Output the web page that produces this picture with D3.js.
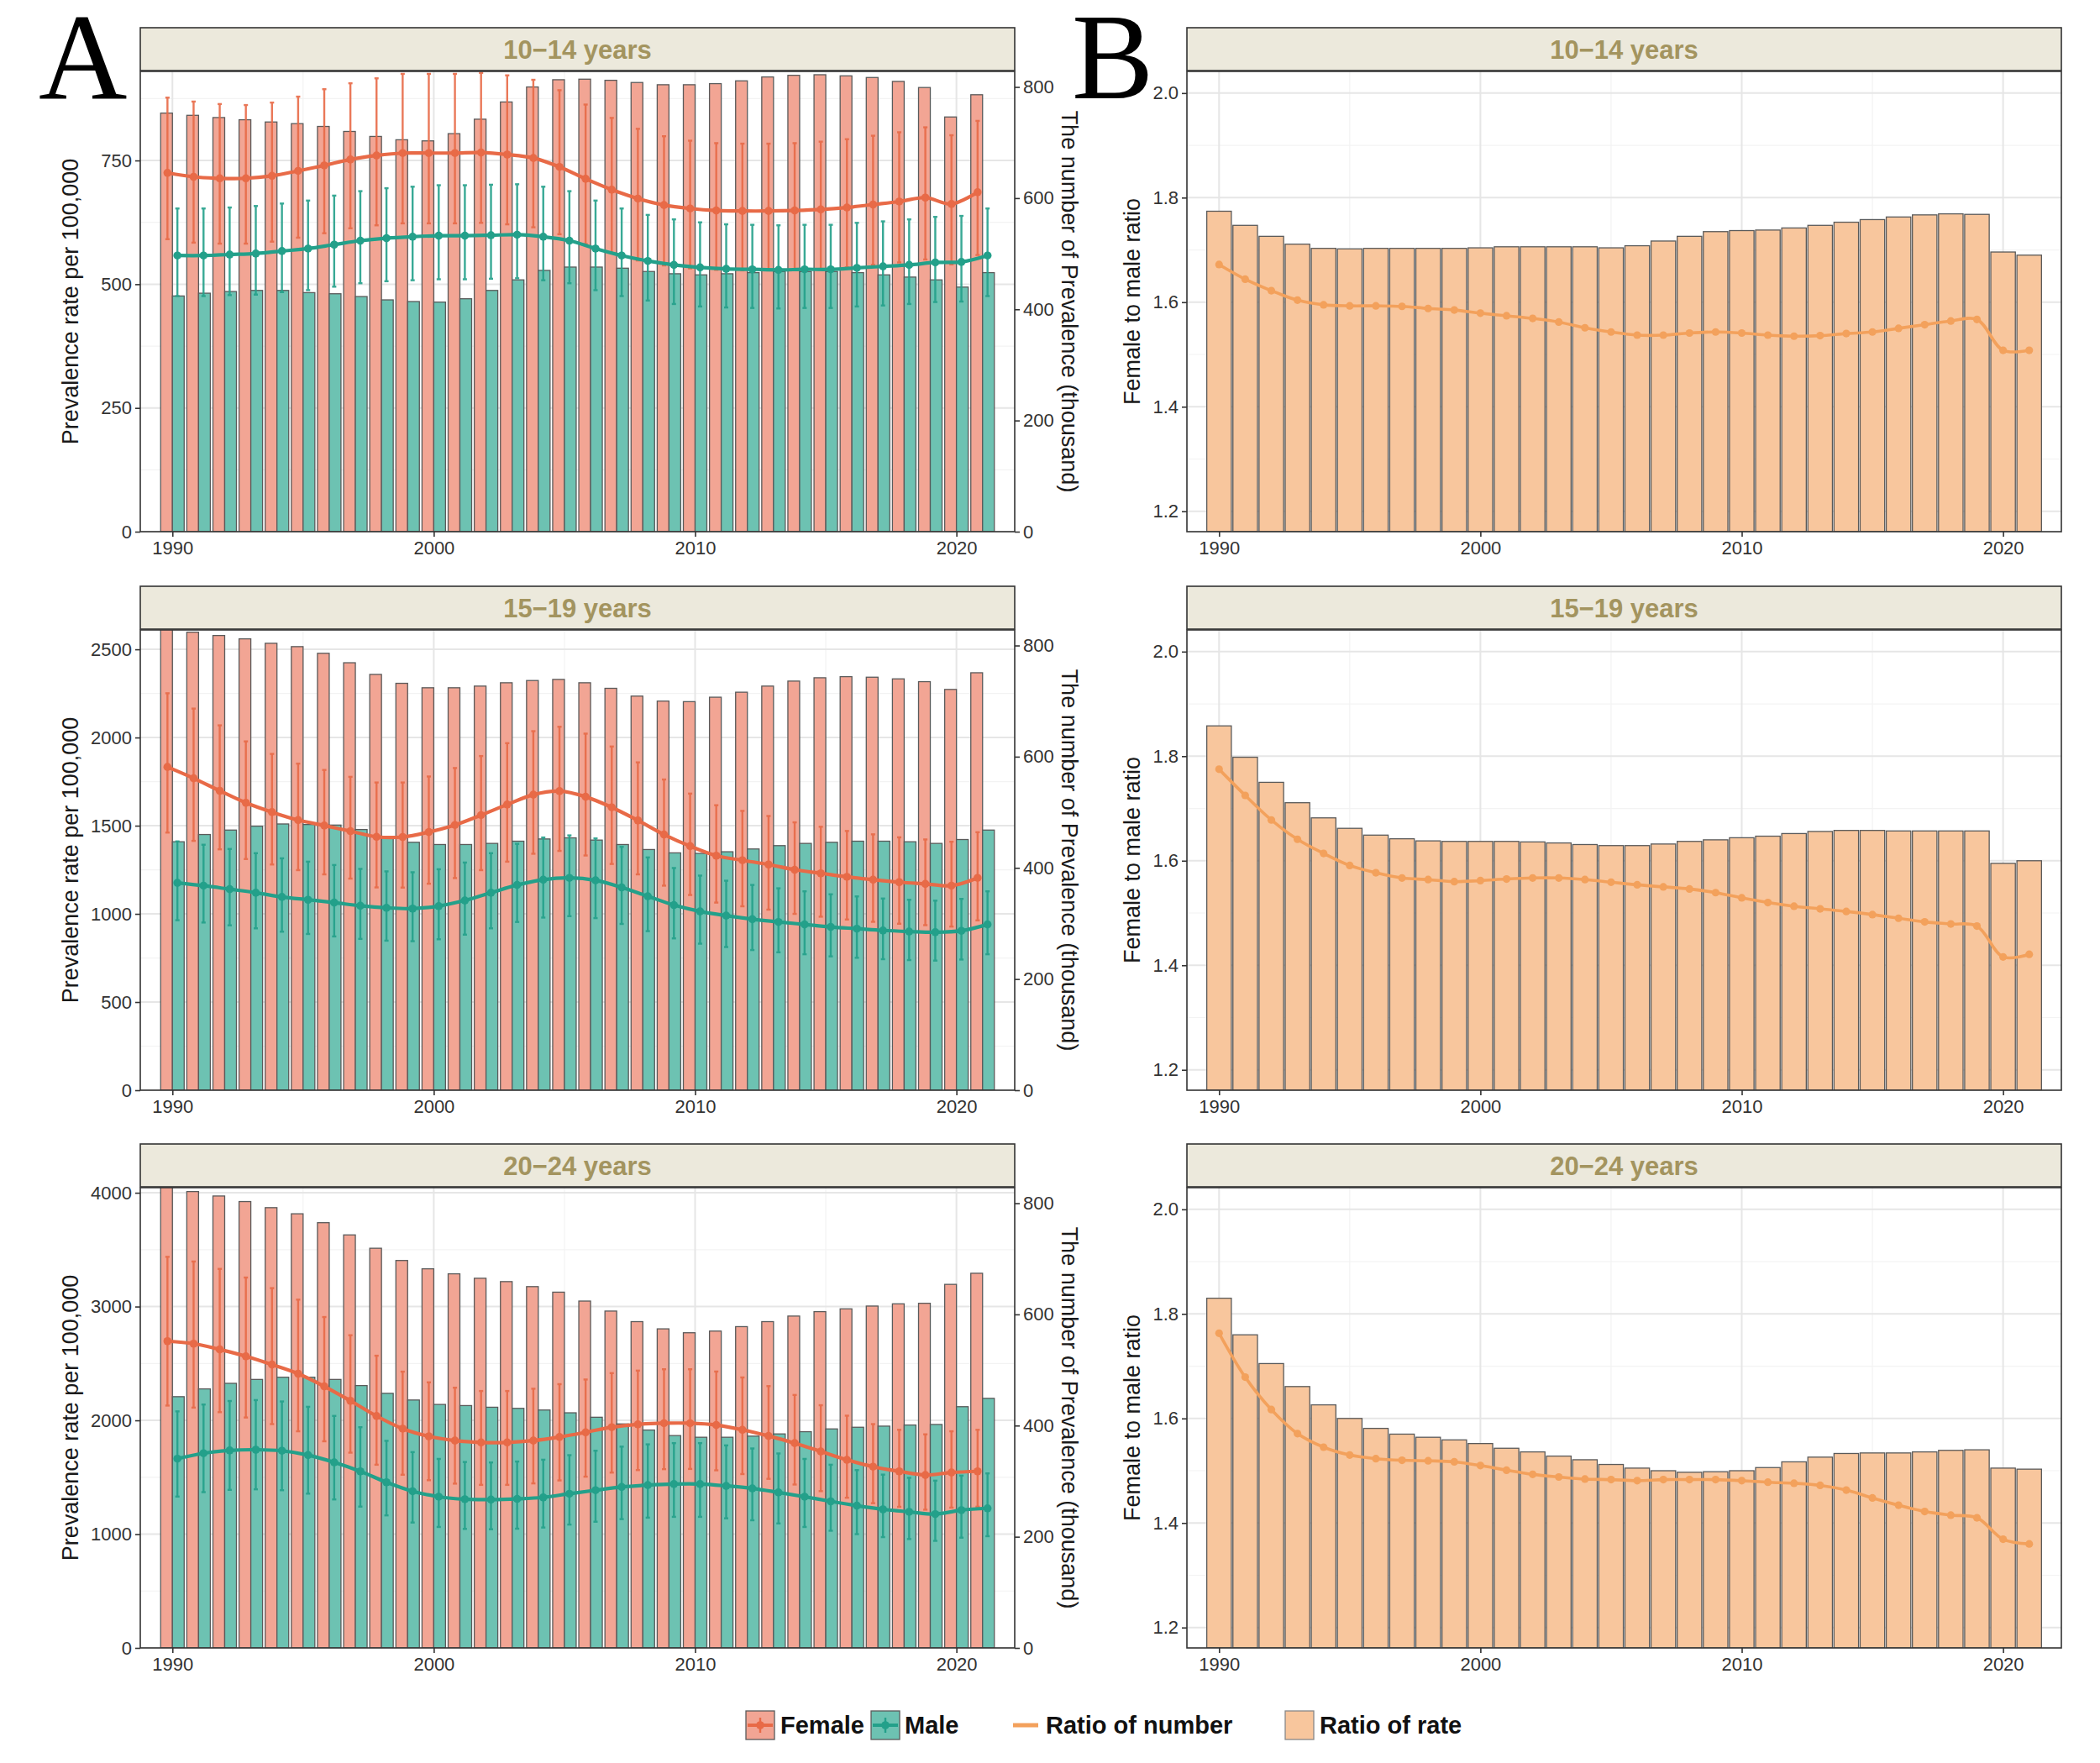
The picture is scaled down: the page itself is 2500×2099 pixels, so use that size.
<!DOCTYPE html>
<html>
<head>
<meta charset="utf-8">
<script src="https://cdn.jsdelivr.net/npm/d3@7"></script>
<style>
  body { margin: 0; background: #fff; }
  text { font-family: "Liberation Sans", Arial, sans-serif; }
  text.letter { font-family: "Liberation Serif", "Times New Roman", serif; }
</style>
</head>
<body>
<div id="chart"></div>
<script>
// ---- data ----
var years = [1990,1991,1992,1993,1994,1995,1996,1997,1998,1999,2000,2001,2002,2003,2004,2005,
             2006,2007,2008,2009,2010,2011,2012,2013,2014,2015,2016,2017,2018,2019,2020,2021];
var ageGroups = ["10\u221214 years", "15\u221219 years", "20\u221224 years"];

// 10-14 years
var female10Bar  = [753,749,745,741,737,734,729,720,711,705,703,716,742,773,800,813,814,812,808,804,804,806,811,818,821,822,820,817,810,799,746,786];
var male10Bar    = [424,429,432,434,434,430,428,423,417,414,413,419,434,453,470,476,476,474,468,464,462,464,466,468,468,468,466,462,458,453,440,466];
var female10Rate = [725,717,714,714,719,729,740,752,760,765,765,765,766,762,755,737,713,691,673,660,653,649,648,648,649,651,655,661,667,675,662,686];
var female10High = [877,869,864,862,867,879,894,906,916,925,925,925,927,922,913,892,863,836,814,799,790,785,784,784,785,788,793,800,807,817,801,830];
var female10Low  = [591,584,582,582,586,594,603,613,619,623,623,623,624,621,615,601,581,563,548,538,532,529,528,528,529,531,534,539,544,550,540,559];
var male10Rate   = [558,558,560,562,567,572,580,588,593,596,598,598,599,600,596,588,572,558,547,539,534,531,530,529,530,530,533,536,539,544,545,558];
var male10High   = [653,653,655,658,663,669,679,688,694,697,700,700,701,702,697,688,669,653,640,631,625,621,620,619,620,620,624,627,631,636,638,653];
var male10Low    = [476,476,478,479,484,488,495,502,506,508,510,510,511,512,508,502,488,476,467,460,455,453,452,451,452,452,455,457,460,464,465,476];
var ratioRate10   = [1.774,1.747,1.726,1.711,1.703,1.702,1.703,1.703,1.703,1.703,1.704,1.706,1.706,1.706,1.706,1.704,1.708,1.717,1.726,1.735,1.737,1.738,1.742,1.747,1.753,1.758,1.763,1.767,1.769,1.768,1.696,1.690];
var ratioNumber10 = [1.672,1.644,1.622,1.604,1.595,1.593,1.593,1.592,1.588,1.585,1.579,1.574,1.569,1.562,1.551,1.543,1.537,1.537,1.541,1.543,1.541,1.537,1.535,1.536,1.540,1.543,1.550,1.557,1.564,1.567,1.508,1.508];

// 15-19 years
var female15Bar  = [830,824,818,812,804,798,786,769,748,732,724,724,727,733,737,739,733,723,709,700,699,707,716,727,736,742,744,743,740,735,721,751];
var male15Bar    = [447,460,468,475,479,478,477,469,454,446,442,442,444,448,452,454,450,442,433,427,426,429,434,440,444,446,448,448,447,444,451,468];
var female15Rate = [1833,1769,1698,1630,1577,1532,1501,1469,1437,1436,1464,1504,1560,1620,1676,1696,1664,1604,1530,1450,1384,1330,1304,1280,1250,1230,1210,1194,1180,1170,1160,1204];
var female15High = [2251,2164,2069,1978,1907,1852,1816,1777,1745,1745,1779,1827,1895,1968,2036,2061,2022,1949,1859,1762,1682,1616,1584,1555,1519,1494,1470,1451,1434,1422,1409,1463];
var female15Low  = [1461,1414,1366,1311,1280,1248,1224,1200,1150,1149,1171,1203,1248,1296,1341,1357,1331,1283,1224,1160,1107,1064,1043,1024,1000,984,968,955,944,936,928,963];
var male15Rate   = [1176,1160,1140,1120,1096,1080,1064,1046,1034,1030,1044,1076,1120,1164,1194,1204,1190,1150,1100,1050,1014,990,970,954,940,926,916,906,900,896,904,940];
var male15High   = [1411,1392,1368,1344,1315,1296,1277,1255,1241,1236,1253,1291,1344,1397,1433,1445,1428,1380,1320,1260,1217,1188,1164,1145,1128,1111,1099,1087,1080,1075,1085,1128];
var male15Low    = [964,951,935,918,899,886,872,858,848,845,856,882,918,954,979,987,976,943,902,861,831,812,795,782,771,759,751,743,738,735,741,771];
var ratioRate15   = [1.858,1.798,1.750,1.711,1.682,1.662,1.649,1.642,1.638,1.637,1.637,1.637,1.636,1.634,1.631,1.629,1.629,1.632,1.637,1.640,1.644,1.647,1.652,1.656,1.658,1.658,1.657,1.657,1.657,1.657,1.595,1.600];
var ratioNumber15 = [1.775,1.725,1.678,1.641,1.614,1.591,1.577,1.567,1.564,1.560,1.562,1.565,1.567,1.567,1.564,1.559,1.554,1.550,1.546,1.539,1.529,1.520,1.513,1.508,1.503,1.497,1.490,1.483,1.479,1.475,1.416,1.421];

// 20-24 years
var female20Bar  = [830,821,813,803,792,781,765,743,719,697,682,673,665,659,650,640,624,606,587,574,567,570,578,587,597,605,610,615,619,620,654,674];
var male20Bar    = [452,466,476,483,487,487,483,472,458,446,438,436,433,431,428,423,415,403,392,382,379,379,381,385,389,394,397,399,401,402,434,449];
var female20Rate = [2696,2674,2623,2563,2490,2410,2299,2172,2038,1927,1860,1822,1806,1806,1822,1854,1895,1940,1965,1975,1975,1959,1917,1863,1800,1727,1653,1593,1552,1520,1542,1552];
var female20High = [3437,3396,3331,3255,3162,3061,2908,2748,2568,2428,2334,2287,2258,2258,2278,2318,2359,2415,2437,2449,2449,2429,2377,2301,2223,2133,2041,1967,1917,1877,1904,1917];
var female20Low  = [2130,2112,2072,2025,1967,1904,1816,1716,1610,1522,1474,1444,1433,1433,1446,1472,1505,1541,1563,1571,1573,1561,1528,1486,1436,1378,1320,1272,1240,1215,1233,1241];
var male20Rate   = [1663,1711,1736,1742,1733,1695,1631,1552,1456,1377,1329,1307,1304,1310,1323,1355,1386,1415,1431,1440,1440,1424,1402,1367,1329,1288,1250,1218,1196,1176,1211,1227];
var male20High   = [2079,2139,2170,2178,2166,2119,2039,1940,1820,1721,1661,1634,1630,1638,1654,1694,1733,1769,1789,1800,1800,1780,1753,1709,1661,1610,1563,1523,1495,1470,1514,1534];
var male20Low    = [1330,1369,1389,1394,1386,1356,1305,1242,1165,1102,1063,1046,1043,1048,1058,1084,1109,1132,1145,1152,1152,1139,1122,1094,1063,1030,1000,974,957,941,969,982];
var ratioRate20   = [1.830,1.760,1.705,1.661,1.626,1.600,1.581,1.570,1.564,1.559,1.552,1.543,1.536,1.528,1.521,1.512,1.505,1.500,1.497,1.498,1.500,1.506,1.517,1.526,1.533,1.534,1.534,1.536,1.539,1.540,1.505,1.503];
var ratioNumber20 = [1.763,1.679,1.617,1.571,1.545,1.530,1.523,1.520,1.519,1.517,1.510,1.501,1.493,1.488,1.484,1.483,1.481,1.483,1.483,1.483,1.481,1.478,1.476,1.472,1.463,1.448,1.434,1.422,1.415,1.410,1.369,1.360];

// axis ticks
var rateTicks = [[0,250,500,750], [0,500,1000,1500,2000,2500], [0,1000,2000,3000,4000]];
var numberTicks = [0,200,400,600,800];
var ratioTicks = [1.2,1.4,1.6,1.8,2.0];
var yearTicks = [1990,2000,2010,2020];
var legendLabels = ["Female", "Male", "Ratio of number", "Ratio of rate"];

// ---- layout ----
var W = 2500, H = 2099;
var rowTop = [33, 698, 1362];
var panelA = { left: 167, right: 1208 }, panelB = { left: 1413, right: 2454 };
var rateMax = [930, 2610, 4045], numberMax = 828, ratioDomain = [1.161, 2.0415];
var xDomain = [1988.77, 2022.23];

var col = {
  femaleBar: "#F2A594", maleBar: "#6DC2B2", barLine: "#5a5a5a",
  femaleLine: "#E86A47", maleLine: "#23A08A",
  ratioBar: "#F8C69D", ratioLine: "#F3A15C",
  strip: "#ECE9DC", stripText: "#A3945F",
  grid: "#E6E6E6", gridMinor: "#F3F3F3", border: "#333"
};

var groups = [
  { fBar: female10Bar, mBar: male10Bar, fRate: female10Rate, fHi: female10High, fLo: female10Low,
    mRate: male10Rate, mHi: male10High, mLo: male10Low, rRate: ratioRate10, rNum: ratioNumber10 },
  { fBar: female15Bar, mBar: male15Bar, fRate: female15Rate, fHi: female15High, fLo: female15Low,
    mRate: male15Rate, mHi: male15High, mLo: male15Low, rRate: ratioRate15, rNum: ratioNumber15 },
  { fBar: female20Bar, mBar: male20Bar, fRate: female20Rate, fHi: female20High, fLo: female20Low,
    mRate: male20Rate, mHi: male20High, mLo: male20Low, rRate: ratioRate20, rNum: ratioNumber20 }
];

var svg = d3.select("#chart").append("svg")
    .attr("width", W).attr("height", H)
    .style("display", "block");

function minorTicks(ticks, max) {
  var step = ticks[1] - ticks[0], out = [];
  ticks.forEach(function (t) { if (t + step / 2 <= max) out.push(t + step / 2); });
  return out;
}

function strip(x0, x1, top, label) {
  svg.append("rect")
     .attr("x", x0).attr("y", top)
     .attr("width", x1 - x0).attr("height", 51)
     .attr("fill", col.strip).attr("stroke", col.border).attr("stroke-width", 1.6);
  svg.append("text")
     .attr("x", (x0 + x1) / 2).attr("y", top + 37)
     .attr("text-anchor", "middle")
     .attr("font-size", 31).attr("font-weight", "bold")
     .attr("fill", col.stripText)
     .text(label);
}

function grid(g, x, y, yMajor, yMinor, x0, x1, top, bottom) {
  g.selectAll(".ymin").data(yMinor).enter().append("line")
   .attr("x1", x0).attr("x2", x1)
   .attr("y1", function (d) { return y(d); }).attr("y2", function (d) { return y(d); })
   .attr("stroke", col.gridMinor).attr("stroke-width", 1.2);
  g.selectAll(".xmin").data([1995, 2005, 2015]).enter().append("line")
   .attr("x1", function (d) { return x(d); }).attr("x2", function (d) { return x(d); })
   .attr("y1", top).attr("y2", bottom)
   .attr("stroke", col.gridMinor).attr("stroke-width", 1.2);
  g.selectAll(".ymaj").data(yMajor).enter().append("line")
   .attr("x1", x0).attr("x2", x1)
   .attr("y1", function (d) { return y(d); }).attr("y2", function (d) { return y(d); })
   .attr("stroke", col.grid).attr("stroke-width", 2);
  g.selectAll(".xmaj").data(yearTicks).enter().append("line")
   .attr("x1", function (d) { return x(d); }).attr("x2", function (d) { return x(d); })
   .attr("y1", top).attr("y2", bottom)
   .attr("stroke", col.grid).attr("stroke-width", 2);
}

function styleAxis(sel) {
  sel.select(".domain").remove();
  sel.selectAll(".tick line").attr("stroke", col.border).attr("stroke-width", 1.6);
  sel.selectAll(".tick text").attr("font-size", 22).attr("fill", "#333")
     .attr("font-family", null);
}

groups.forEach(function (d, i) {
  var top = rowTop[i] + 52, bottom = rowTop[i] + 600;

  // ===== panel A =====
  var x = d3.scaleLinear().domain(xDomain).range([panelA.left, panelA.right]);
  var yRate = d3.scaleLinear().domain([0, rateMax[i]]).range([bottom, top]);
  var yNum = d3.scaleLinear().domain([0, numberMax]).range([bottom, top]);

  strip(panelA.left, panelA.right, rowTop[i], ageGroups[i]);

  var clipId = "clipA" + i;
  svg.append("clipPath").attr("id", clipId).append("rect")
     .attr("x", panelA.left).attr("y", top)
     .attr("width", panelA.right - panelA.left).attr("height", bottom - top);

  var g = svg.append("g").attr("clip-path", "url(#" + clipId + ")");
  grid(g, x, yRate, rateTicks[i], minorTicks(rateTicks[i], rateMax[i]), panelA.left, panelA.right, top, bottom);

  // bars (read on the right axis)
  g.selectAll(".fbar").data(years).enter().append("rect")
   .attr("x", function (yr) { return x(yr - 0.45); })
   .attr("width", x(0.45) - x(0))
   .attr("y", function (yr, j) { return yNum(d.fBar[j]); })
   .attr("height", function (yr, j) { return bottom - yNum(d.fBar[j]); })
   .attr("fill", col.femaleBar).attr("stroke", col.barLine).attr("stroke-width", 1.3);
  g.selectAll(".mbar").data(years).enter().append("rect")
   .attr("x", function (yr) { return x(yr); })
   .attr("width", x(0.45) - x(0))
   .attr("y", function (yr, j) { return yNum(d.mBar[j]); })
   .attr("height", function (yr, j) { return bottom - yNum(d.mBar[j]); })
   .attr("fill", col.maleBar).attr("stroke", col.barLine).attr("stroke-width", 1.3);

  // error bars, lines, points (read on the left axis)
  var series = [
    { rate: d.fRate, hi: d.fHi, lo: d.fLo, dx: -0.19, c: col.femaleLine },
    { rate: d.mRate, hi: d.mHi, lo: d.mLo, dx: 0.19, c: col.maleLine }
  ];
  series.forEach(function (s) {
    var eb = g.append("g").attr("opacity", 0.9);
    eb.selectAll("line.v").data(years).enter().append("line")
      .attr("x1", function (yr) { return x(yr + s.dx); }).attr("x2", function (yr) { return x(yr + s.dx); })
      .attr("y1", function (yr, j) { return yRate(s.hi[j]); })
      .attr("y2", function (yr, j) { return yRate(s.lo[j]); })
      .attr("stroke", s.c).attr("stroke-width", 2.4);
    [s.hi, s.lo].forEach(function (arr) {
      eb.selectAll(null).data(years).enter().append("line")
        .attr("x1", function (yr) { return x(yr + s.dx) - 2.5; })
        .attr("x2", function (yr) { return x(yr + s.dx) + 2.5; })
        .attr("y1", function (yr, j) { return yRate(arr[j]); })
        .attr("y2", function (yr, j) { return yRate(arr[j]); })
        .attr("stroke", s.c).attr("stroke-width", 2.4);
    });
  });
  series.forEach(function (s) {
    var line = d3.line()
      .x(function (yr) { return x(yr + s.dx); })
      .y(function (yr, j) { return yRate(s.rate[j]); })
      .curve(d3.curveCatmullRom.alpha(0.5));
    g.append("path").datum(years).attr("d", line)
     .attr("fill", "none").attr("stroke", s.c).attr("stroke-width", 4.2);
    g.selectAll(null).data(years).enter().append("circle")
     .attr("cx", function (yr) { return x(yr + s.dx); })
     .attr("cy", function (yr, j) { return yRate(s.rate[j]); })
     .attr("r", 4.8).attr("fill", s.c);
  });

  svg.append("rect")
     .attr("x", panelA.left).attr("y", top)
     .attr("width", panelA.right - panelA.left).attr("height", bottom - top)
     .attr("fill", "none").attr("stroke", col.border).attr("stroke-width", 1.6);

  styleAxis(svg.append("g").attr("transform", "translate(" + panelA.left + ",0)")
     .call(d3.axisLeft(yRate).tickValues(rateTicks[i]).tickFormat(d3.format("d")).tickSize(6).tickPadding(4)));
  styleAxis(svg.append("g").attr("transform", "translate(" + panelA.right + ",0)")
     .call(d3.axisRight(yNum).tickValues(numberTicks).tickFormat(d3.format("d")).tickSize(6).tickPadding(4)));
  styleAxis(svg.append("g").attr("transform", "translate(0," + bottom + ")")
     .call(d3.axisBottom(x).tickValues(yearTicks).tickFormat(d3.format("d")).tickSize(6).tickPadding(5)));

  svg.append("text")
     .attr("transform", "translate(93," + (top + bottom) / 2 + ") rotate(-90)")
     .attr("text-anchor", "middle").attr("font-size", 27).attr("fill", "#1a1a1a")
     .text("Prevalence rate per 100,000");
  svg.append("text")
     .attr("transform", "translate(1264," + (top + bottom) / 2 + ") rotate(90)")
     .attr("text-anchor", "middle").attr("font-size", 27).attr("fill", "#1a1a1a")
     .text("The number of Prevalence (thousand)");

  // ===== panel B =====
  var xb = d3.scaleLinear().domain(xDomain).range([panelB.left, panelB.right]);
  var yr2 = d3.scaleLinear().domain(ratioDomain).range([bottom, top]);

  strip(panelB.left, panelB.right, rowTop[i], ageGroups[i]);

  var clipB = "clipB" + i;
  svg.append("clipPath").attr("id", clipB).append("rect")
     .attr("x", panelB.left).attr("y", top)
     .attr("width", panelB.right - panelB.left).attr("height", bottom - top);
  var gb = svg.append("g").attr("clip-path", "url(#" + clipB + ")");
  grid(gb, xb, yr2, ratioTicks, [1.3, 1.5, 1.7, 1.9], panelB.left, panelB.right, top, bottom);

  gb.selectAll(".rbar").data(years).enter().append("rect")
    .attr("x", function (yr) { return xb(yr - 0.47); })
    .attr("width", xb(0.94) - xb(0))
    .attr("y", function (yr, j) { return yr2(d.rRate[j]); })
    .attr("height", function (yr, j) { return bottom - yr2(d.rRate[j]); })
    .attr("fill", col.ratioBar).attr("stroke", col.barLine).attr("stroke-width", 1.3);

  var rline = d3.line()
    .x(function (yr) { return xb(yr); })
    .y(function (yr, j) { return yr2(d.rNum[j]); })
    .curve(d3.curveCatmullRom.alpha(0.5));
  gb.append("path").datum(years).attr("d", rline)
    .attr("fill", "none").attr("stroke", col.ratioLine).attr("stroke-width", 3.6);
  gb.selectAll(null).data(years).enter().append("circle")
    .attr("cx", function (yr) { return xb(yr); })
    .attr("cy", function (yr, j) { return yr2(d.rNum[j]); })
    .attr("r", 4.6).attr("fill", col.ratioLine);

  svg.append("rect")
     .attr("x", panelB.left).attr("y", top)
     .attr("width", panelB.right - panelB.left).attr("height", bottom - top)
     .attr("fill", "none").attr("stroke", col.border).attr("stroke-width", 1.6);

  styleAxis(svg.append("g").attr("transform", "translate(" + panelB.left + ",0)")
     .call(d3.axisLeft(yr2).tickValues(ratioTicks).tickFormat(d3.format(".1f")).tickSize(6).tickPadding(4)));
  styleAxis(svg.append("g").attr("transform", "translate(0," + bottom + ")")
     .call(d3.axisBottom(xb).tickValues(yearTicks).tickFormat(d3.format("d")).tickSize(6).tickPadding(5)));

  svg.append("text")
     .attr("transform", "translate(1357," + (top + bottom) / 2 + ") rotate(-90)")
     .attr("text-anchor", "middle").attr("font-size", 27).attr("fill", "#1a1a1a")
     .text("Female to male ratio");
});

// panel letters
svg.append("text").attr("class", "letter").attr("x", 46).attr("y", 117)
   .attr("font-size", 146).attr("fill", "#000").text("A");
svg.append("text").attr("class", "letter").attr("x", 1276).attr("y", 117)
   .attr("font-size", 146).attr("fill", "#000").text("B");

// ---- legend ----
var lgY = 2054;
var lg = svg.append("g");
[{ x: 888, fill: col.femaleBar, c: col.femaleLine }, { x: 1037, fill: col.maleBar, c: col.maleLine }]
  .forEach(function (k) {
    lg.append("rect").attr("x", k.x).attr("y", lgY - 17).attr("width", 34).attr("height", 34)
      .attr("fill", k.fill).attr("stroke", col.barLine).attr("stroke-width", 1.3);
    lg.append("line").attr("x1", k.x + 2).attr("x2", k.x + 32).attr("y1", lgY).attr("y2", lgY)
      .attr("stroke", k.c).attr("stroke-width", 4);
    lg.append("line").attr("x1", k.x + 17).attr("x2", k.x + 17).attr("y1", lgY - 9).attr("y2", lgY + 9)
      .attr("stroke", k.c).attr("stroke-width", 2.4);
    lg.append("circle").attr("cx", k.x + 17).attr("cy", lgY).attr("r", 4.8).attr("fill", k.c);
  });
lg.append("line").attr("x1", 1206).attr("x2", 1236).attr("y1", lgY).attr("y2", lgY)
  .attr("stroke", col.ratioLine).attr("stroke-width", 5);
lg.append("rect").attr("x", 1530).attr("y", lgY - 17).attr("width", 34).attr("height", 34)
  .attr("fill", col.ratioBar).attr("stroke", "#888").attr("stroke-width", 1.3);
[929, 1077, 1245, 1571].forEach(function (lx, j) {
  lg.append("text").attr("x", lx).attr("y", lgY + 10)
    .attr("font-size", 29).attr("font-weight", "bold").attr("fill", "#111")
    .text(legendLabels[j]);
});
</script>
</body>
</html>
